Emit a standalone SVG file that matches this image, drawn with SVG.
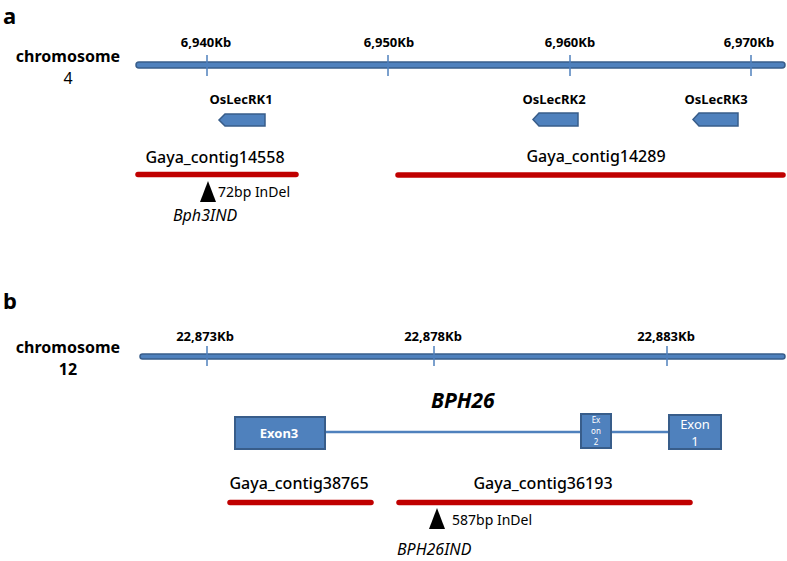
<svg xmlns="http://www.w3.org/2000/svg" width="787" height="561" viewBox="0 0 787 561">
<defs>
<style>
text{font-family:"Noto Sans","Noto Sans CJK KR","DejaVu Sans",sans-serif;fill:#000}
.panel{font-size:22px;font-weight:bold}
.chr{font-size:16px;font-weight:bold;text-anchor:middle}
.tick{font-size:13px;font-weight:bold;text-anchor:middle}
.gene{font-size:13px;font-weight:bold;text-anchor:middle}
.contig{font-size:16px;font-weight:500;text-anchor:middle}
.indel{font-size:14px}
.marker{font-size:16px;font-style:italic}
.bar{fill:#4f81bd;stroke:#385d8a;stroke-width:1.5}
.tk{stroke:#4f81bd;stroke-width:1.5}
.red{stroke:#c00000;stroke-width:5.5;stroke-linecap:round}
.box{fill:#4f81bd;stroke:#385d8a;stroke-width:2}
.ex{fill:#fff;text-anchor:middle}
.intron{stroke:#4f81bd;stroke-width:2.5}
</style>
</defs>
<rect width="787" height="561" fill="#fff"/>

<g id="panel-a">
<text class="panel" x="3" y="23.5">a</text>
<g id="chr4-label"><text class="chr" x="68" y="62">chromosome</text><text class="chr" x="68" y="84" style="font-weight:normal">4</text></g>
<g id="chr4"><rect class="bar" x="136" y="62" width="649" height="6" rx="3"/></g>
<g id="ticks-a">
<line class="tk" x1="207" y1="55" x2="207" y2="76"/>
<line class="tk" x1="388" y1="55" x2="388" y2="76"/>
<line class="tk" x1="570" y1="55" x2="570" y2="76"/>
<line class="tk" x1="751" y1="55" x2="751" y2="76"/>
<text class="tick" x="206" y="47">6,940Kb</text>
<text class="tick" x="389" y="47">6,950Kb</text>
<text class="tick" x="570" y="47">6,960Kb</text>
<text class="tick" x="749" y="47">6,970Kb</text>
</g>
<g id="OsLecRK1"><text class="gene" x="241" y="104">OsLecRK1</text><polygon class="bar" points="265,114 225,114 219,120 225,126 265,126"/></g>
<g id="OsLecRK2"><text class="gene" x="554" y="104">OsLecRK2</text><polygon class="bar" points="578,113 539,113 533,119.5 539,126 578,126"/></g>
<g id="OsLecRK3"><text class="gene" x="716" y="104">OsLecRK3</text><polygon class="bar" points="738,113 699,113 693,119.5 699,126 738,126"/></g>
<g id="contig14558"><text class="contig" x="215" y="163">Gaya_contig14558</text><line class="red" x1="138" y1="174.5" x2="296" y2="174.5"/></g>
<g id="contig14289"><text class="contig" x="596" y="162">Gaya_contig14289</text><line class="red" x1="398" y1="175" x2="783" y2="175"/></g>
<g id="indel-a"><polygon points="208,181 216,202 200,202" fill="#000"/><text class="indel" x="218" y="197">72bp InDel</text></g>
<g id="Bph3IND"><text class="marker" x="173" y="221">Bph3IND</text></g>
</g>

<g id="panel-b">
<text class="panel" x="3" y="309">b</text>
<g id="chr12-label"><text class="chr" x="68" y="353">chromosome</text><text class="chr" x="68" y="375">12</text></g>
<g id="chr12"><rect class="bar" x="140" y="354" width="645" height="5" rx="2.5"/></g>
<g id="ticks-b">
<line class="tk" x1="207" y1="346" x2="207" y2="366"/>
<line class="tk" x1="434" y1="346" x2="434" y2="366"/>
<line class="tk" x1="667" y1="346" x2="667" y2="366"/>
<text class="tick" x="205" y="341">22,873Kb</text>
<text class="tick" x="433" y="341">22,878Kb</text>
<text class="tick" x="666" y="341">22,883Kb</text>
</g>
<g id="BPH26-label"><text x="431" y="408" style="font-size:21px;font-weight:bold;font-style:italic">BPH26</text></g>
<g id="connectors">
<line class="intron" x1="325" y1="432" x2="581" y2="432"/>
<line class="intron" x1="611" y1="432" x2="670" y2="432"/>
</g>
<g id="exon3"><rect class="box" x="235" y="417" width="90" height="32"/><text class="ex" x="279" y="438" font-size="13" font-weight="bold">Exon3</text></g>
<g id="exon2"><rect class="box" x="581" y="414" width="30" height="34"/><text class="ex" x="596" y="423" font-size="8">Ex</text><text class="ex" x="596" y="434" font-size="8">on</text><text class="ex" x="596" y="445" font-size="8">2</text></g>
<g id="exon1"><rect class="box" x="669" y="415" width="52" height="34"/><text class="ex" x="695" y="429" font-size="13">Exon</text><text class="ex" x="695" y="446" font-size="13">1</text></g>
<g id="contig38765"><text class="contig" x="299" y="489">Gaya_contig38765</text><line class="red" x1="230" y1="502.5" x2="371" y2="502.5"/></g>
<g id="contig36193"><text class="contig" x="543" y="489">Gaya_contig36193</text><line class="red" x1="399" y1="502.5" x2="690" y2="502.5"/></g>
<g id="indel-b"><polygon points="437,508 445,529 429,529" fill="#000"/><text class="indel" x="452" y="525">587bp InDel</text></g>
<g id="BPH26IND"><text class="marker" x="397" y="555">BPH26IND</text></g>
</g>
</svg>
